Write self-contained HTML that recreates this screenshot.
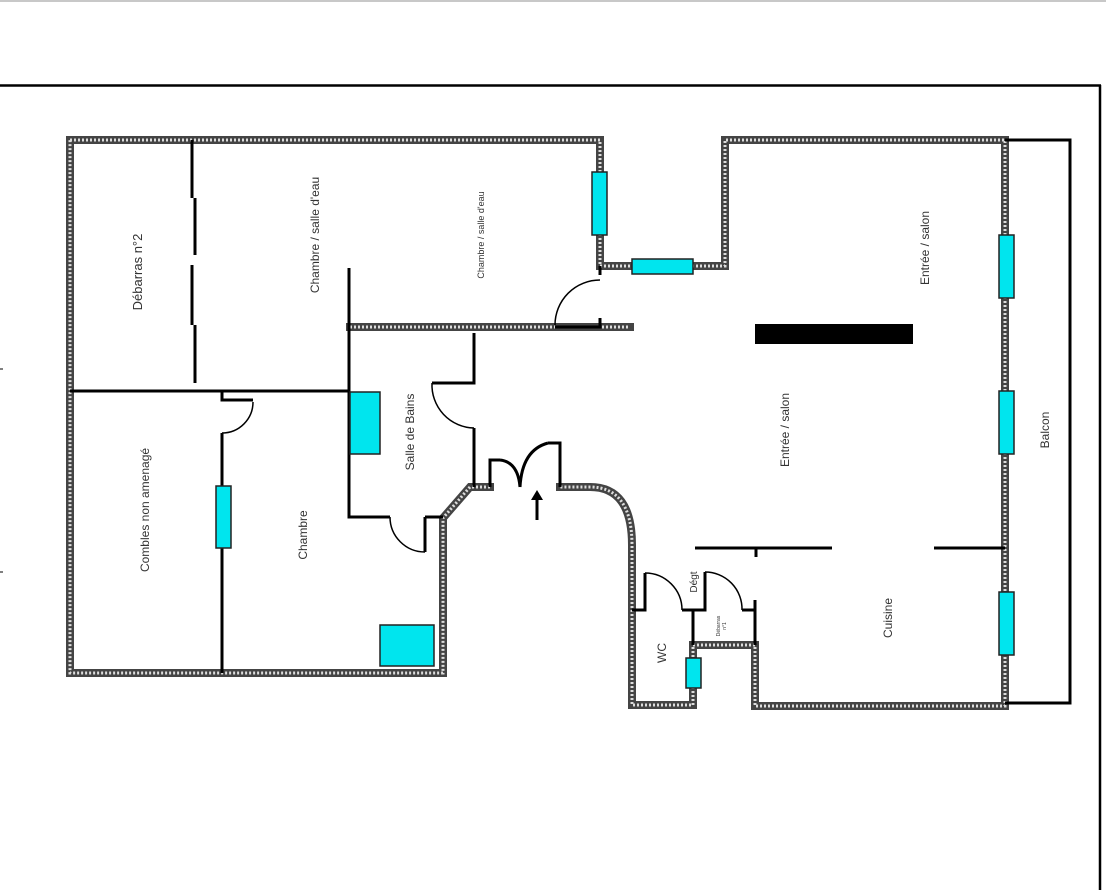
<!DOCTYPE html>
<html><head><meta charset="utf-8"><style>
html,body{margin:0;padding:0;background:#fff;}
svg{display:block;}
text{font-family:"Liberation Sans",sans-serif;fill:#333;}
</style></head><body>
<svg width="1106" height="890" viewBox="0 0 1106 890" xmlns="http://www.w3.org/2000/svg">
<line x1="0" y1="1" x2="1106" y2="1" stroke="#c8c8c8" stroke-width="2"/>
<line x1="0" y1="85.5" x2="1101" y2="85.5" stroke="#000" stroke-width="2.5"/>
<line x1="1100" y1="85" x2="1100" y2="890" stroke="#000" stroke-width="2.5"/>
<line x1="0" y1="369" x2="3" y2="369" stroke="#000"/>
<line x1="0" y1="572" x2="3" y2="572" stroke="#000"/>
<g fill="none" stroke="#444" stroke-width="8" stroke-linecap="square">
<path d="M70 140 H600 V266 H725 V140 H1005 V706 H755 V645 H693 V705 H632 V545 Q632 487 590 487 H560 M490 487 H470 L443 518 V673 H70 V140"/>
<path d="M350 327 H630"/>
</g>
<g fill="none" stroke="#ddd" stroke-width="3" stroke-dasharray="2 2">
<path d="M70 140 H600 V266 H725 V140 H1005 V706 H755 V645 H693 V705 H632 V545 Q632 487 590 487 H560 M490 487 H470 L443 518 V673 H70 V140"/>
<path d="M350 327 H630"/>
</g>
<!-- balcony -->
<path d="M1005 140 H1070 V703 H1005" fill="none" stroke="#000" stroke-width="3"/>
<!-- thin walls -->
<g fill="none" stroke="#000" stroke-width="3">
<path d="M192 140 V198 M195 198 V255 M192 265 V325 M195 325 V383"/>
<path d="M70 391 H350"/>
<path d="M349 268 V517 H390 M425 517 H443"/>
<path d="M425 517 V552"/>
<path d="M222 391 V400 H253 M222 433 V673"/>
<path d="M474 333 V383 H432 M474 428 V487"/>
<path d="M490 487 V460 H500 M560 487 V443 H548"/>
<path d="M600 266 V275 M600 318 V327 H555"/>
<path d="M695 548 H832 M756 548 V557 M934 548 H1005"/>
<path d="M632 610 H645 V573 M682 610 H705 V572 M742 610 H755 V600 M755 600 V645 M693 610 V645"/>
</g>
<g fill="none" stroke="#000" stroke-width="1.5">
<path d="M253 402 A31 31 0 0 1 222 433"/>
<path d="M390 517 A35 35 0 0 0 425 552"/>
<path d="M432 383 A43 43 0 0 0 474 428"/>
<path d="M600 280 A45 45 0 0 0 555 325"/>
<path d="M645 573 A37 37 0 0 1 682 610"/>
<path d="M705 572 A37 37 0 0 1 742 610"/>
</g>
<g fill="none" stroke="#000" stroke-width="3">
<path d="M500 460 Q518 462 520 487"/>
<path d="M548 443 Q522 450 520 487"/>
</g>
<path d="M537 520 V498" stroke="#000" stroke-width="3"/>
<path d="M531 500 L537 490 L543 500 Z" fill="#000"/>
<!-- windows -->
<g fill="#00e5ee" stroke="#222" stroke-width="1.5">
<rect x="592" y="172" width="15" height="63"/>
<rect x="632" y="259" width="61" height="15"/>
<rect x="999" y="235" width="15" height="63"/>
<rect x="999" y="391" width="15" height="63"/>
<rect x="999" y="592" width="15" height="63"/>
<rect x="216" y="486" width="15" height="62"/>
<rect x="686" y="658" width="15" height="30"/>
<rect x="350" y="392" width="30" height="62"/>
<rect x="380" y="625" width="54" height="41"/>
</g>
<rect x="755" y="324" width="158" height="20" fill="#000"/>
<!-- labels -->
<g text-anchor="middle">
<text transform="translate(142,272) rotate(-90)" font-size="13">Débarras n°2</text>
<text transform="translate(319,235) rotate(-90)" font-size="12">Chambre / salle d'eau</text>
<text transform="translate(484,235) rotate(-90)" font-size="9">Chambre / salle d'eau</text>
<text transform="translate(929,248) rotate(-90)" font-size="12">Entrée / salon</text>
<text transform="translate(414,432) rotate(-90)" font-size="12">Salle de Bains</text>
<text transform="translate(789,430) rotate(-90)" font-size="12">Entrée / salon</text>
<text transform="translate(1049,430) rotate(-90)" font-size="12">Balcon</text>
<text transform="translate(149,510) rotate(-90)" font-size="12">Combles non amenagé</text>
<text transform="translate(307,535) rotate(-90)" font-size="12">Chambre</text>
<text transform="translate(892,618) rotate(-90)" font-size="12">Cuisine</text>
<text transform="translate(666,653) rotate(-90)" font-size="12">WC</text>
<text transform="translate(697,582) rotate(-90)" font-size="10">Dégt</text>
<text transform="translate(720,626) rotate(-90)" font-size="5">Débarras</text>
<text transform="translate(726,626) rotate(-90)" font-size="5">n°1</text>
</g>
</svg>
</body></html>
